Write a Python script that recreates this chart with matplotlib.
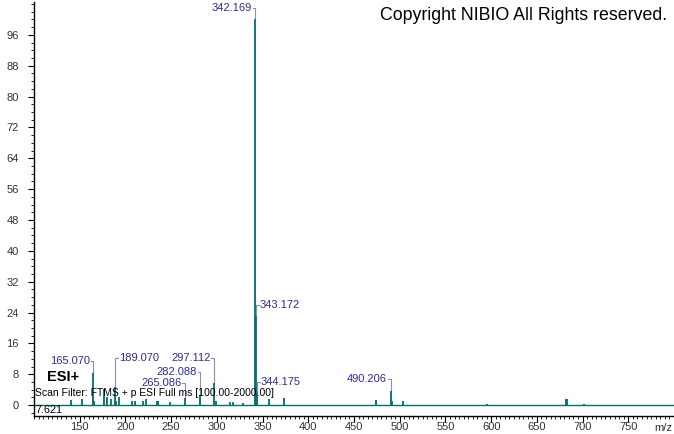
#!/usr/bin/env python3
"""
Mass spectrum (ESI+) — NIBIO style stick plot
"""

import matplotlib
matplotlib.use('Agg')
import matplotlib.pyplot as plt
from matplotlib.ticker import MultipleLocator
from matplotlib.transforms import blended_transform_factory

# ─── Data ──────────────────────────────────────────────────────────────────────
MZ = [140.5, 152.0, 165.070, 166.07, 177.1, 179.5, 183.9, 189.070, 190.0,
      193.1, 207.0, 210.5, 219.6, 222.5, 234.0, 236.0, 248.8, 265.086,
      282.088, 297.112, 299.0, 314.4, 318.0, 329.0, 342.169, 343.172,
      344.175, 357.5, 373.5, 473.8, 490.206, 491.2, 504.0, 596.0, 682.0,
      683.0, 701.7]
INTENSITY = [1.3, 1.7, 8.4, 1.0, 4.3, 2.0, 1.5, 4.8, 1.2,
             2.0, 1.0, 1.0, 1.2, 1.5, 1.0, 1.0, 0.8, 1.9,
             2.7, 5.7, 1.2, 0.8, 0.8, 0.6, 100.0, 23.0,
             3.2, 1.5, 1.8, 1.4, 3.6, 1.2, 1.1, 0.3, 1.7,
             1.5, 0.3]

# labelled peaks: m/z, peak height, label height, side of the label
LABEL_MZ = [342.169, 165.070, 189.070, 297.112, 282.088, 265.086,
            343.172, 344.175, 490.206]
LABEL_PEAK = [100.0, 8.4, 4.8, 5.7, 2.7, 1.9, 23.0, 3.2, 3.6]
LABEL_Y = [103.0, 11.5, 12.3, 12.3, 8.7, 5.7, 26.0, 6.0, 6.7]
LABEL_SIDE = ['left', 'left', 'right', 'left', 'left', 'left',
              'right', 'right', 'left']

Y_TICKS = list(range(0, 97, 8))
X_TICKS = list(range(150, 751, 50))

# ─── Styling ───────────────────────────────────────────────────────────────────
TEAL = '#00706C'
BLUE = '#2B2BA0'
BRACKET = '#8C8CB4'
FONT = 'Liberation Sans'

plt.rcParams['font.family'] = FONT

fig = plt.figure(figsize=(6.74, 4.34), dpi=100)
fig.patch.set_facecolor('white')
ax = fig.add_axes([34 / 674, 18 / 434, 640 / 674, 414 / 434])

ax.set_xlim(100, 800)
ax.set_ylim(-2.8, 104.5)

# baseline + sticks
ax.axhline(0, color=TEAL, lw=1.0, zorder=2)
ax.vlines(MZ, 0, INTENSITY, color=TEAL, lw=1.3, zorder=3)

# ─── Peak labels with bracket connectors ───────────────────────────────────────
for mz, peak, ly, side in zip(LABEL_MZ, LABEL_PEAK, LABEL_Y, LABEL_SIDE):
    if side == 'left':
        hx = mz - 3.0
        tx, ha = mz - 4.0, 'right'
    else:
        hx = mz + 3.0
        tx, ha = mz + 4.0, 'left'
    ax.plot([hx, mz, mz], [ly, ly, peak], color=BRACKET, lw=0.8, zorder=2)
    ax.text(tx, ly, f'{mz:.3f}', ha=ha, va='center', fontsize=8,
            color=BLUE, zorder=4)

# ─── Annotations ───────────────────────────────────────────────────────────────
ax.text(114, 7.3, 'ESI+', fontsize=10.5, fontweight='bold', color='black',
        ha='left', va='center')
ax.text(101, 3.2, 'Scan Filter: FTMS + p ESI Full ms [100.00-2000.00]',
        fontsize=7.5, color='black', ha='left', va='center', zorder=5)
ax.text(102, -1.2, '7.621', fontsize=7.8, color='black', ha='left',
        va='center')

fig.text(667 / 674, 1 - 15 / 434, 'Copyright NIBIO All Rights reserved.',
         fontsize=12.8, color='black', ha='right', va='center')

# ─── Axes ──────────────────────────────────────────────────────────────────────
for s in ('top', 'right'):
    ax.spines[s].set_visible(False)
for s in ('left', 'bottom'):
    ax.spines[s].set_color('black')
    ax.spines[s].set_linewidth(1.0)

ax.set_yticks(Y_TICKS)
ax.set_xticks(X_TICKS)
ax.yaxis.set_minor_locator(MultipleLocator(2))
ax.xaxis.set_minor_locator(MultipleLocator(5))
ax.tick_params(axis='both', which='major', length=4, width=0.8,
               labelsize=8, colors='black', labelcolor='#333333')
ax.tick_params(axis='both', which='minor', length=2.2, width=0.6,
               colors='black')
ax.tick_params(axis='y', pad=7)
ax.tick_params(axis='x', pad=0.5)

trans = blended_transform_factory(ax.transData, ax.transAxes)
ax.text(788, -0.016, 'm/z', transform=trans, fontsize=8, color='#333333',
        ha='center', va='top')

fig.savefig('out.png', dpi=100, facecolor='white')
